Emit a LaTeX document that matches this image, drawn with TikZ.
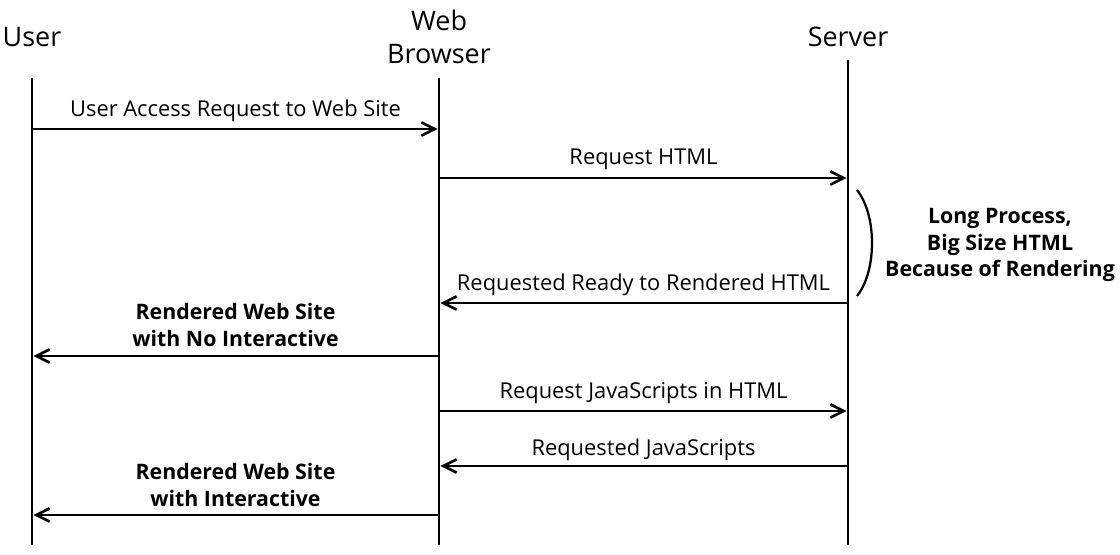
\documentclass[tikz,border=0pt]{standalone}
\usepackage{fontspec}
\setmainfont{Open Sans}
\usetikzlibrary{arrows.meta}
\begin{document}
\begin{tikzpicture}[x=0.75pt,y=-0.75pt,
  life/.style={line width=2.2pt},
  msg/.style={line width=2pt,-{Straight Barb[length=10pt,width=10pt,line width=2pt]},shorten >=1pt},
  lbl/.style={font=\fontsize{16.4}{18}\selectfont,inner sep=0pt,anchor=center},
  blbl/.style={font=\fontsize{16}{20.2}\selectfont\bfseries,align=center,inner sep=0pt,anchor=center},
  head/.style={font=\fontsize{20.2}{25}\selectfont,align=center,inner sep=0pt}]
\useasboundingbox (0,0) rectangle (1120,554);
% headers
\node[head] (hu) at (32,37) {User};
\node[head] (hb) at (439,37) {Web\\Browser};
\node[head] (hs) at (848,37) {Server};
% lifelines
\coordinate (ut) at (32,78); \coordinate (ub) at (32,545);
\coordinate (bt) at (439,78); \coordinate (bb) at (439,545);
\coordinate (st) at (848,60); \coordinate (sb) at (848,545);
\draw[life] (ut) -- (ub);
\draw[life] (bt) -- (bb);
\draw[life] (st) -- (sb);
% message anchors
\foreach \n/\y in {1/129,2/178,3/303,4/356,5/411,6/466,7/515}{
  \coordinate (u\n) at (32,\y);
  \coordinate (b\n) at (439,\y);
  \coordinate (s\n) at (848,\y);
}
\draw[msg] (u1) -- (b1) node[lbl,midway,yshift=14pt] (l1) {User Access Request to Web Site};
\draw[msg] (b2) -- (s2) node[lbl,midway,yshift=13.8pt] (l2) {Request HTML};
\draw[msg] (s3) -- (b3) node[lbl,midway,yshift=13.3pt] (l3) {Requested Ready to Rendered HTML};
\draw[msg] (b4) -- (u4) node[blbl,midway,yshift=23.2pt] (l4) {Rendered Web Site\\with No Interactive};
\draw[msg] (b5) -- (s5) node[lbl,midway,yshift=13.3pt] (l5) {Request JavaScripts in HTML};
\draw[msg] (s6) -- (b6) node[lbl,midway,yshift=12.5pt] (l6) {Requested JavaScripts};
\draw[msg] (b7) -- (u7) node[blbl,midway,yshift=22.8pt] (l7) {Rendered Web Site\\with Interactive};
% brace
\coordinate (pa) at (857,190); \coordinate (pb) at (857,296);
\draw[line width=1.7pt] (pa) .. controls (877,215) and (877,271) .. (pb);
\node[blbl] (note) at (1000,245) {Long Process,\\Big Size HTML\\Because of Rendering};
\end{tikzpicture}
\end{document}
